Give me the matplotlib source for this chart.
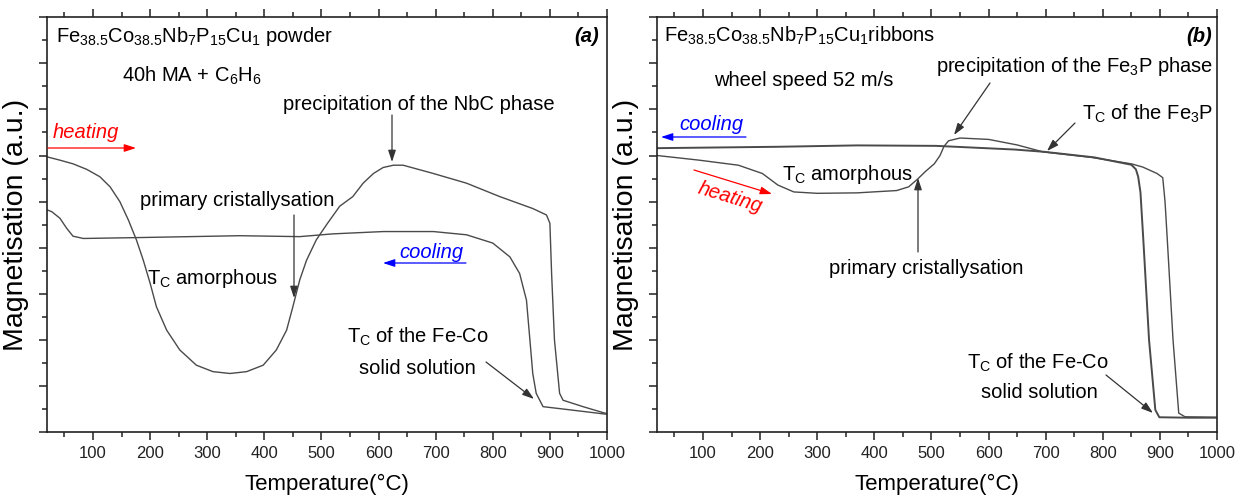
import matplotlib
matplotlib.use("Agg")
import matplotlib.pyplot as plt
from matplotlib.ticker import MultipleLocator

plt.rcParams['font.family'] = ['Liberation Sans', 'DejaVu Sans']
plt.rcParams['mathtext.default'] = 'regular'

# ---------------- data ----------------
# panel (a): powder
a_heat_T = [20, 42, 65, 89, 112, 130, 147, 162, 176, 188, 200, 211, 229, 252, 281, 310, 340, 369,
            398, 421, 439, 450, 462, 474, 491, 509, 532, 555, 573, 591, 608, 626, 643, 696, 754,
            812, 870, 894, 900, 903, 908, 917, 923, 958, 996, 1000]
a_heat_M = [5.97, 5.90, 5.82, 5.70, 5.54, 5.32, 5.00, 4.60, 4.17, 3.73, 3.23, 2.72, 2.21, 1.78,
            1.45, 1.31, 1.27, 1.31, 1.45, 1.78, 2.21, 2.72, 3.30, 3.73, 4.17, 4.50, 4.90, 5.11,
            5.40, 5.61, 5.74, 5.79, 5.79, 5.61, 5.40, 5.11, 4.85, 4.71, 4.53, 3.44, 2.00, 0.84,
            0.69, 0.55, 0.41, 0.40]
a_cool_T = [1000, 996, 929, 888, 876, 870, 865, 859, 847, 830, 800, 754, 696, 608, 520, 462, 357,
            182, 83, 65, 54, 42, 28, 20]
a_cool_M = [0.39, 0.39, 0.49, 0.55, 0.84, 1.27, 2.00, 2.86, 3.44, 3.80, 4.10, 4.28, 4.35, 4.35,
            4.30, 4.24, 4.26, 4.22, 4.20, 4.25, 4.42, 4.64, 4.78, 4.82]

# panel (b): ribbons
b_heat_T = [20, 93, 162, 204, 231, 259, 300, 370, 439, 460, 475, 490, 505, 515, 522, 530, 550, 600,
            650, 695, 780, 850, 870, 895, 905, 909, 913, 923, 933, 944, 1000]
b_heat_M = [6.00, 5.90, 5.79, 5.61, 5.36, 5.21, 5.18, 5.19, 5.24, 5.32, 5.48, 5.66, 5.82, 6.00, 6.20,
            6.32, 6.38, 6.35, 6.23, 6.08, 5.96, 5.82, 5.75, 5.61, 5.52, 5.00, 4.17, 2.00, 0.41, 0.33,
            0.32]
b_cool_T = [1000, 950, 899, 892, 881, 871, 866, 862, 858, 850, 785, 698, 646, 508, 370, 231, 20]
b_cool_M = [0.31, 0.31, 0.32, 0.48, 2.00, 4.17, 5.20, 5.54, 5.70, 5.80, 5.96, 6.08, 6.13, 6.21, 6.22,
            6.19, 6.16]

x_ticks = [100, 200, 300, 400, 500, 600, 700, 800, 900, 1000]

# ---------------- figure ----------------
W, H = 1239, 497
fig = plt.figure(figsize=(W / 100, H / 100), dpi=100)
TOP, BOT = 17.3, 432.0
boxes = {'a': (47.3, 607.0), 'b': (657.3, 1217.0)}
LC = '#4a4a4a'
FS = 14.5


def make_axes(key):
    x0, x1 = boxes[key]
    ax = fig.add_axes([x0 / W, (H - BOT) / H, (x1 - x0) / W, (BOT - TOP) / H])
    ax.set_xlim(20, 1000)
    ax.set_ylim(0, 9)
    ax.xaxis.set_major_locator(MultipleLocator(100))
    ax.xaxis.set_minor_locator(MultipleLocator(50))
    ax.yaxis.set_major_locator(MultipleLocator(1))
    ax.yaxis.set_minor_locator(MultipleLocator(0.5))
    ax.set_xticks(x_ticks)
    ax.set_xticklabels([str(t) for t in x_ticks])
    ax.tick_params(which='both', direction='out', top=True, right=False, width=1.1, colors='#222222')
    ax.tick_params(which='major', length=6)
    ax.tick_params(which='minor', length=3.5)
    ax.tick_params(axis='x', labelsize=12, pad=4)
    ax.tick_params(axis='y', labelleft=False)
    for s in ax.spines.values():
        s.set_linewidth(1.2)
        s.set_color('#222222')
    ax.set_xlabel('Temperature(°C)', fontsize=16, labelpad=9)
    ax.set_ylabel('Magnetisation (a.u.)', fontsize=20.5, labelpad=6)
    return ax


def P(key, x, y):
    x0, x1 = boxes[key]
    return ((x - x0) / (x1 - x0), (BOT - y) / (BOT - TOP))


def txt(ax, key, x, y, s, **kw):
    kw.setdefault('fontsize', FS)
    kw.setdefault('va', 'center')
    ax.text(*P(key, x, y), s, transform=ax.transAxes, **kw)


def arr(ax, key, xs, ys, xe, ye, color='#333333', lw=0.9, hw=2.3, hl=7):
    ax.annotate('', xy=P(key, xe, ye), xycoords='axes fraction',
                xytext=P(key, xs, ys), textcoords='axes fraction',
                arrowprops=dict(arrowstyle=f'-|>,head_width={hw/10:.2f},head_length={hl/10:.2f}',
                                color=color, lw=lw, shrinkA=0, shrinkB=0))


# ---- panel a ----
axa = make_axes('a')
axa.plot(a_heat_T, a_heat_M, color=LC, lw=1.0)
axa.plot(a_cool_T, a_cool_M, color=LC, lw=1.0)
txt(axa, 'a', 56, 36, r'Fe$_{38.5}$Co$_{38.5}$Nb$_{7}$P$_{15}$Cu$_{1}$ powder')
txt(axa, 'a', 122, 76, r'40h MA + C$_{6}$H$_{6}$')
txt(axa, 'a', 599, 36, '(a)', ha='right', fontweight='bold', style='italic')
txt(axa, 'a', 419, 104, 'precipitation of the NbC phase', ha='center')
arr(axa, 'a', 392, 115, 392, 162)
txt(axa, 'a', 53, 132, 'heating', color='red', style='italic')
arr(axa, 'a', 48, 148, 136, 148, color='red')
txt(axa, 'a', 237, 201, 'primary cristallysation', ha='center')
arr(axa, 'a', 294, 215, 294, 298)
txt(axa, 'a', 399, 252, 'cooling', color='blue', style='italic')
arr(axa, 'a', 466, 263, 383, 263, color='blue')
txt(axa, 'a', 147, 278, r'T$_{C}$ amorphous')
txt(axa, 'a', 347, 337, r'T$_{C}$ of the Fe-Co')
txt(axa, 'a', 359, 368, 'solid solution')
arr(axa, 'a', 486, 362, 534, 399)

# ---- panel b ----
axb = make_axes('b')
axb.plot(b_cool_T, b_cool_M, color=LC, lw=1.4)
axb.plot(b_heat_T, b_heat_M, color=LC, lw=1.0)
txt(axb, 'b', 664, 36, r'Fe$_{38.5}$Co$_{38.5}$Nb$_{7}$P$_{15}$Cu$_{1}$ribbons')
txt(axb, 'b', 1212, 36, '(b)', ha='right', fontweight='bold', style='italic')
txt(axb, 'b', 714, 80, 'wheel speed 52 m/s')
txt(axb, 'b', 1213, 66, r'precipitation of the Fe$_{3}$P phase', ha='right')
arr(axb, 'b', 990, 83, 954, 135)
txt(axb, 'b', 1213, 114, r'T$_{C}$ of the Fe$_{3}$P', ha='right')
arr(axb, 'b', 1075, 123, 1047, 151)
txt(axb, 'b', 679, 124, 'cooling', color='blue', style='italic')
arr(axb, 'b', 746, 137, 661, 137, color='blue')
txt(axb, 'b', 782, 174, r'T$_{C}$ amorphous')
arr(axb, 'b', 694, 170, 772, 194, color='red')
txt(axb, 'b', 730, 198, 'heating', color='red', style='italic', ha='center', rotation=-17,
    rotation_mode='anchor')
txt(axb, 'b', 926, 268, 'primary cristallysation', ha='center')
arr(axb, 'b', 918, 252, 918, 178)
txt(axb, 'b', 967, 363, r'T$_{C}$ of the Fe-Co')
txt(axb, 'b', 981, 392, 'solid solution')
arr(axb, 'b', 1106, 375, 1153, 413)

fig.savefig('out.png', dpi=100)
